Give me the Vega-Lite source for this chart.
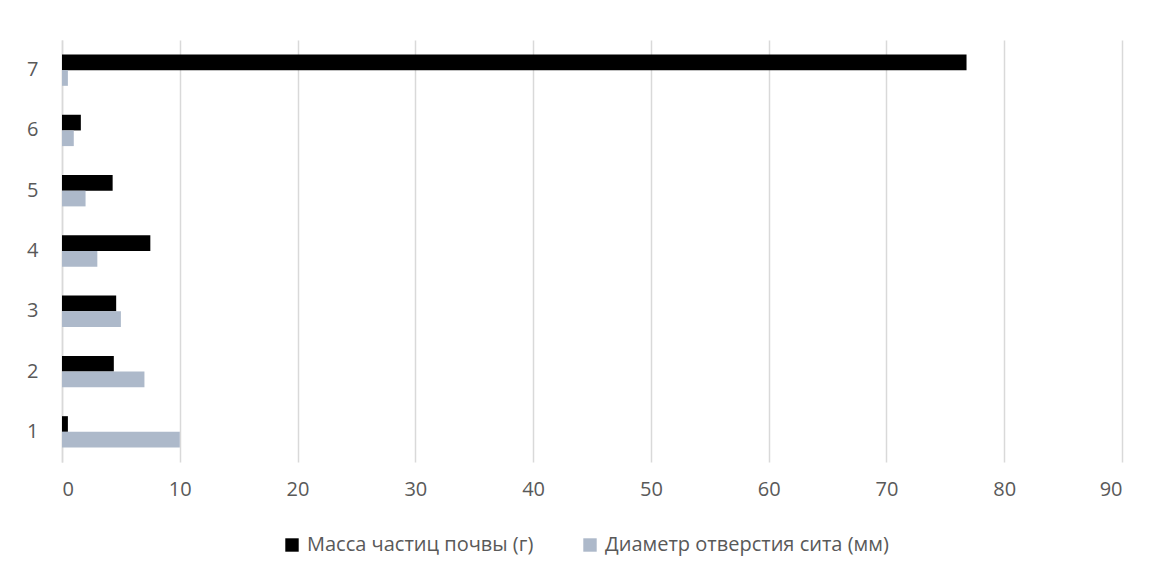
{
  "$schema": "https://vega.github.io/schema/vega-lite/v6.json",
  "autosize": {"type": "none"},
  "width": 1060,
  "height": 422,
  "padding": {"left": 62, "top": 40, "right": 28, "bottom": 116},
  "background": "white",
  "config": {
    "view": {"stroke": null},
    "font": "Open Sans",
    "axis": {"labelFont": "Open Sans", "labelColor": "#595959", "labelFontSize": 20}
  },
  "data": {
    "values": [
      {"cat": "1", "series": "Масса частиц почвы (г)", "value": 0.5},
      {"cat": "2", "series": "Масса частиц почвы (г)", "value": 4.4},
      {"cat": "3", "series": "Масса частиц почвы (г)", "value": 4.6},
      {"cat": "4", "series": "Масса частиц почвы (г)", "value": 7.5},
      {"cat": "5", "series": "Масса частиц почвы (г)", "value": 4.3},
      {"cat": "6", "series": "Масса частиц почвы (г)", "value": 1.6},
      {"cat": "7", "series": "Масса частиц почвы (г)", "value": 76.8},
      {"cat": "1", "series": "Диаметр отверстия сита (мм)", "value": 10},
      {"cat": "2", "series": "Диаметр отверстия сита (мм)", "value": 7},
      {"cat": "3", "series": "Диаметр отверстия сита (мм)", "value": 5},
      {"cat": "4", "series": "Диаметр отверстия сита (мм)", "value": 3},
      {"cat": "5", "series": "Диаметр отверстия сита (мм)", "value": 2},
      {"cat": "6", "series": "Диаметр отверстия сита (мм)", "value": 1},
      {"cat": "7", "series": "Диаметр отверстия сита (мм)", "value": 0.5}
    ]
  },
  "mark": {"type": "bar"},
  "encoding": {
    "y": {
      "field": "cat", "type": "nominal",
      "sort": ["7", "6", "5", "4", "3", "2", "1"],
      "scale": {"paddingInner": 0.48, "paddingOuter": 0.24},
      "axis": {"title": null, "ticks": false, "domain": true, "domainColor": "#d9d9d9", "domainWidth": 1.5, "labelPadding": 24, "labelAlign": "right"}
    },
    "yOffset": {
      "field": "series", "type": "nominal",
      "sort": ["Масса частиц почвы (г)", "Диаметр отверстия сита (мм)"],
      "scale": {"paddingInner": 0, "paddingOuter": 0}
    },
    "x": {
      "field": "value", "type": "quantitative",
      "scale": {"domain": [0, 90], "nice": false},
      "axis": {"title": null, "values": [0,10,20,30,40,50,60,70,80,90], "ticks": false, "domain": false, "grid": true, "gridColor": "#d9d9d9", "gridWidth": 1.5, "labelPadding": 17}
    },
    "color": {
      "field": "series", "type": "nominal",
      "sort": ["Масса частиц почвы (г)", "Диаметр отверстия сита (мм)"],
      "scale": {"range": ["#000000", "#adb9ca"]},
      "legend": {
        "title": null, "orient": "none", "direction": "horizontal",
        "legendX": 220, "legendY": 495,
        "symbolType": "square", "symbolSize": 180, "symbolStrokeWidth": 0,
        "labelFont": "Open Sans", "labelFontSize": 20, "labelColor": "#595959",
        "labelOffset": 5, "columnPadding": 46, "labelLimit": 400
      }
    }
  }
}
